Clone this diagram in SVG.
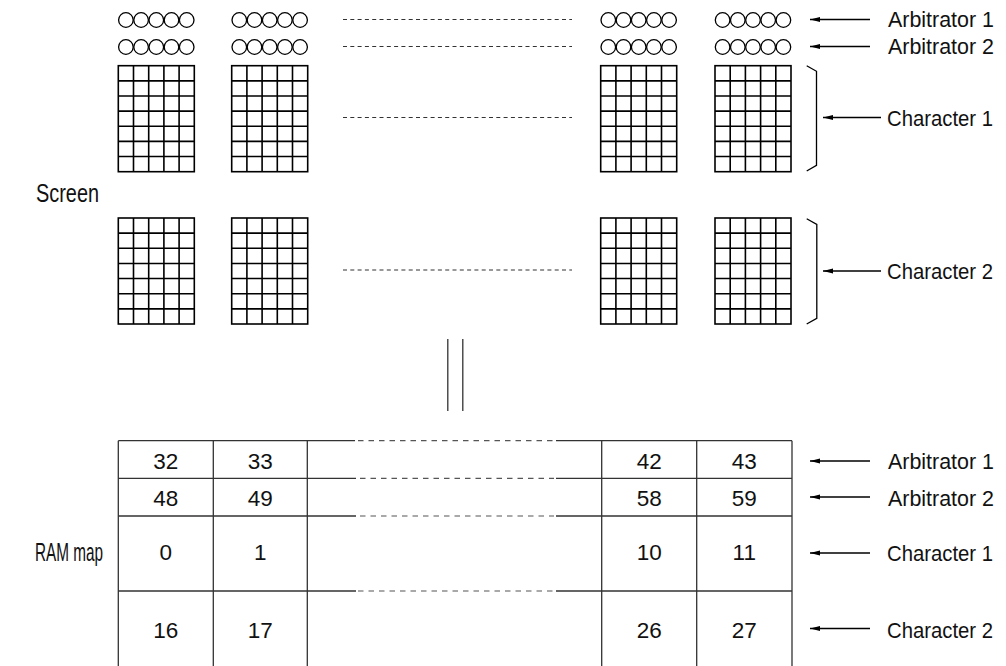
<svg xmlns="http://www.w3.org/2000/svg" xmlns:xlink="http://www.w3.org/1999/xlink" width="1006" height="666" viewBox="0 0 1006 666">
<style>
.lbl{font-family:"Liberation Sans",Arial,sans-serif;font-size:22.5px;fill:#111}
.lbc{font-family:"Liberation Sans",Arial,sans-serif;font-size:22px;fill:#111}
.num{font-family:"Liberation Sans",Arial,sans-serif;font-size:22.5px;fill:#111;text-anchor:middle}
.big{font-family:"Liberation Sans",Arial,sans-serif;font-size:25px;fill:#111}
.grid{fill:none;stroke:#000;stroke-width:1.6}
.circ{fill:none;stroke:#000;stroke-width:1.3}
.dash1{stroke:#333;stroke-width:1.2;stroke-dasharray:4 3.3;fill:none}
.dash2{stroke:#555;stroke-width:1.2;stroke-dasharray:5.5 5;fill:none}
.tbl{stroke:#333;stroke-width:1.3;fill:none}
.arr{stroke:#000;stroke-width:1.3;fill:none;marker-end:url(#ah)}
.br{stroke:#000;stroke-width:1.3;fill:none}
</style>
<defs>
<marker id="ah" markerUnits="userSpaceOnUse" markerWidth="11" markerHeight="6" refX="10" refY="2.5" orient="auto" viewBox="0 0 11 6">
<path d="M0,0 L10,2.5 L0,5 z" fill="#000"/>
</marker>
<g id="circles">
<circle class="circ" cx="7.6" cy="0" r="7.3"/>
<circle class="circ" cx="22.8" cy="0" r="7.3"/>
<circle class="circ" cx="38" cy="0" r="7.3"/>
<circle class="circ" cx="53.2" cy="0" r="7.3"/>
<circle class="circ" cx="68.4" cy="0" r="7.3"/>
</g>
<g id="grid">
<rect class="grid" x="0" y="0" width="76" height="106"/>
<path class="grid" d="M15.2,0V106M30.4,0V106M45.6,0V106M60.8,0V106M0,15.14H76M0,30.29H76M0,45.43H76M0,60.57H76M0,75.71H76M0,90.86H76"/>
</g>
</defs>

<g id="screen">
<g id="screen-arb1">
<use xlink:href="#circles" x="118.3" y="20"/>
<use xlink:href="#circles" x="231.7" y="20"/>
<use xlink:href="#circles" x="600.7" y="20"/>
<use xlink:href="#circles" x="715" y="20"/>
</g>
<g id="screen-arb2">
<use xlink:href="#circles" x="118.3" y="47"/>
<use xlink:href="#circles" x="231.7" y="47"/>
<use xlink:href="#circles" x="600.7" y="47"/>
<use xlink:href="#circles" x="715" y="47"/>
</g>
<g id="screen-char1">
<use xlink:href="#grid" x="118.3" y="65.7"/>
<use xlink:href="#grid" x="231.7" y="65.7"/>
<use xlink:href="#grid" x="600.7" y="65.7"/>
<use xlink:href="#grid" x="715" y="65.7"/>
</g>
<g id="screen-char2">
<use xlink:href="#grid" x="118.3" y="218"/>
<use xlink:href="#grid" x="231.7" y="218"/>
<use xlink:href="#grid" x="600.7" y="218"/>
<use xlink:href="#grid" x="715" y="218"/>
</g>
<path class="dash1" d="M343,19.5H572M343,46.5H572M343,117.5H572M343,270H572"/>
<path class="br" d="M806.7,65.7L816.5,71.3V165.4L806.7,171"/>
<path class="br" d="M806.7,218.8L816.8,224.5V318.3L806.7,324"/>
<text class="big" x="36" y="202" textLength="63" lengthAdjust="spacingAndGlyphs">Screen</text>
</g>

<g id="equals">
<path class="tbl" d="M447.8,339V411M462.8,339V411"/>
</g>

<g id="rammap">
<path class="tbl" d="M118.3,440.7V666M213.3,440.7V666M307.3,440.7V666M601.7,440.7V666M696.7,440.7V666M792,440.7V666"/>
<path class="tbl" d="M118.3,440.7H355M556,440.7H792M118.3,478.3H356M556,478.3H792M118.3,516H356M556,516H792M118.3,591H356M556,591H792"/>
<path class="dash2" d="M358,440.7H554M360,478.3H554M360,516H554M358,591H554"/>
<text class="num" x="165.8" y="469">32</text>
<text class="num" x="260.3" y="469">33</text>
<text class="num" x="649.2" y="469">42</text>
<text class="num" x="744.3" y="469">43</text>
<text class="num" x="165.8" y="506">48</text>
<text class="num" x="260.3" y="506">49</text>
<text class="num" x="649.2" y="506">58</text>
<text class="num" x="744.3" y="506">59</text>
<text class="num" x="165.8" y="560">0</text>
<text class="num" x="260.3" y="560">1</text>
<text class="num" x="649.2" y="560">10</text>
<text class="num" x="744.3" y="560">11</text>
<text class="num" x="165.8" y="638">16</text>
<text class="num" x="260.3" y="638">17</text>
<text class="num" x="649.2" y="638">26</text>
<text class="num" x="744.3" y="638">27</text>
<text class="big" x="35" y="561" textLength="68" lengthAdjust="spacingAndGlyphs">RAM map</text>
</g>

<g id="connectors">
<path class="arr" d="M870,19.5H810"/>
<path class="arr" d="M870,46.5H810"/>
<path class="arr" d="M881,117.5H823"/>
<path class="arr" d="M881,271H823"/>
<path class="arr" d="M870,461H810"/>
<path class="arr" d="M870,497H810"/>
<path class="arr" d="M870,553H810"/>
<path class="arr" d="M870,628.5H810"/>
</g>

<g id="labels">
<text class="lbl" x="888" y="27" textLength="106" lengthAdjust="spacingAndGlyphs">Arbitrator 1</text>
<text class="lbl" x="888" y="54" textLength="106" lengthAdjust="spacingAndGlyphs">Arbitrator 2</text>
<text class="lbc" x="887" y="126" textLength="106" lengthAdjust="spacingAndGlyphs">Character 1</text>
<text class="lbc" x="887" y="279" textLength="106" lengthAdjust="spacingAndGlyphs">Character 2</text>
<text class="lbl" x="888" y="469" textLength="106" lengthAdjust="spacingAndGlyphs">Arbitrator 1</text>
<text class="lbl" x="888" y="506" textLength="106" lengthAdjust="spacingAndGlyphs">Arbitrator 2</text>
<text class="lbc" x="887" y="561" textLength="106" lengthAdjust="spacingAndGlyphs">Character 1</text>
<text class="lbc" x="887" y="638" textLength="106" lengthAdjust="spacingAndGlyphs">Character 2</text>
</g>
</svg>
